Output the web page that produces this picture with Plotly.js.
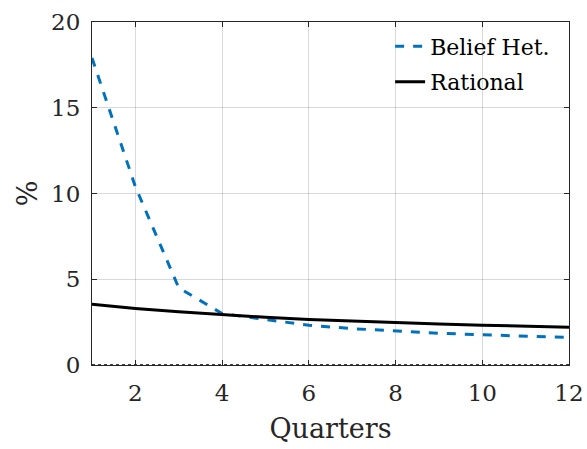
<!DOCTYPE html>
<html><head><meta charset="utf-8">
<script src="https://cdn.plot.ly/plotly-3.0.1.min.js"></script>
<style>html,body{margin:0;padding:0;background:#fff;}#chart{width:587px;height:449px;}</style>
</head><body><div id="chart"></div>
<script>
const quarters = [1,2,3,4,5,6,7,8,9,10,11,12];
const beliefHet = [17.9,10.4,4.5,3.0,2.65,2.32,2.12,1.97,1.85,1.76,1.68,1.61];
const rational = [3.55,3.30,3.10,2.93,2.78,2.65,2.55,2.47,2.39,2.32,2.26,2.20];
const zeroLine = [0,0,0,0,0,0,0,0,0,0,0,0];
const xTicks = [2,4,6,8,10,12];
const yTicks = [0,5,10,15,20];

const font = '"DejaVu Serif", serif';
const traces = [
  {x: quarters, y: zeroLine, mode:'lines', line:{color:'#000', width:1.5, dash:'dot'}, showlegend:false, hoverinfo:'skip'},
  {x: quarters, y: beliefHet, mode:'lines', name:'Belief Het.', legendgroup:'a', line:{color:'#0072BD', width:3, dash:'dash'}},
  {x: quarters, y: rational, mode:'lines', name:'Rational', legendgroup:'b', line:{color:'#000000', width:3}}
];
const axisCommon = {
  showline:true, mirror:'ticks', linecolor:'#262626', linewidth:1,
  ticks:'inside', ticklen:5, tickcolor:'#262626',
  showgrid:true, gridcolor:'rgba(0,0,0,0.15)', gridwidth:1,
  zeroline:false, tickfont:{family:font, size:23, color:'#262626'}
};
const layout = {
  width:587, height:449,
  margin:{l:92, r:18, t:22, b:84},
  paper_bgcolor:'#fff', plot_bgcolor:'#fff',
  font:{family:font, color:'#262626'},
  xaxis: Object.assign({}, axisCommon, {range:[1,12], tickvals:xTicks, ticktext:xTicks.map(String),
    ticklabelstandoff:7,
    title:{text:'Quarters', font:{family:font, size:27, color:'#262626'}, standoff:14}}),
  yaxis: Object.assign({}, axisCommon, {range:[0,20], tickvals:yTicks, ticktext:yTicks.map(String),
    ticklabelstandoff:6,
    title:{text:'%', font:{family:font, size:27, color:'#262626'}, standoff:5}}),
  legend:{x:0.625, xanchor:'left', y:0.99, yanchor:'top', bgcolor:'rgba(0,0,0,0)',
    font:{family:font, size:22, color:'#000'}, tracegroupgap:4, itemwidth:30},
  showlegend:true
};
Plotly.newPlot('chart', traces, layout, {staticPlot:true, displayModeBar:false});
</script></body></html>
